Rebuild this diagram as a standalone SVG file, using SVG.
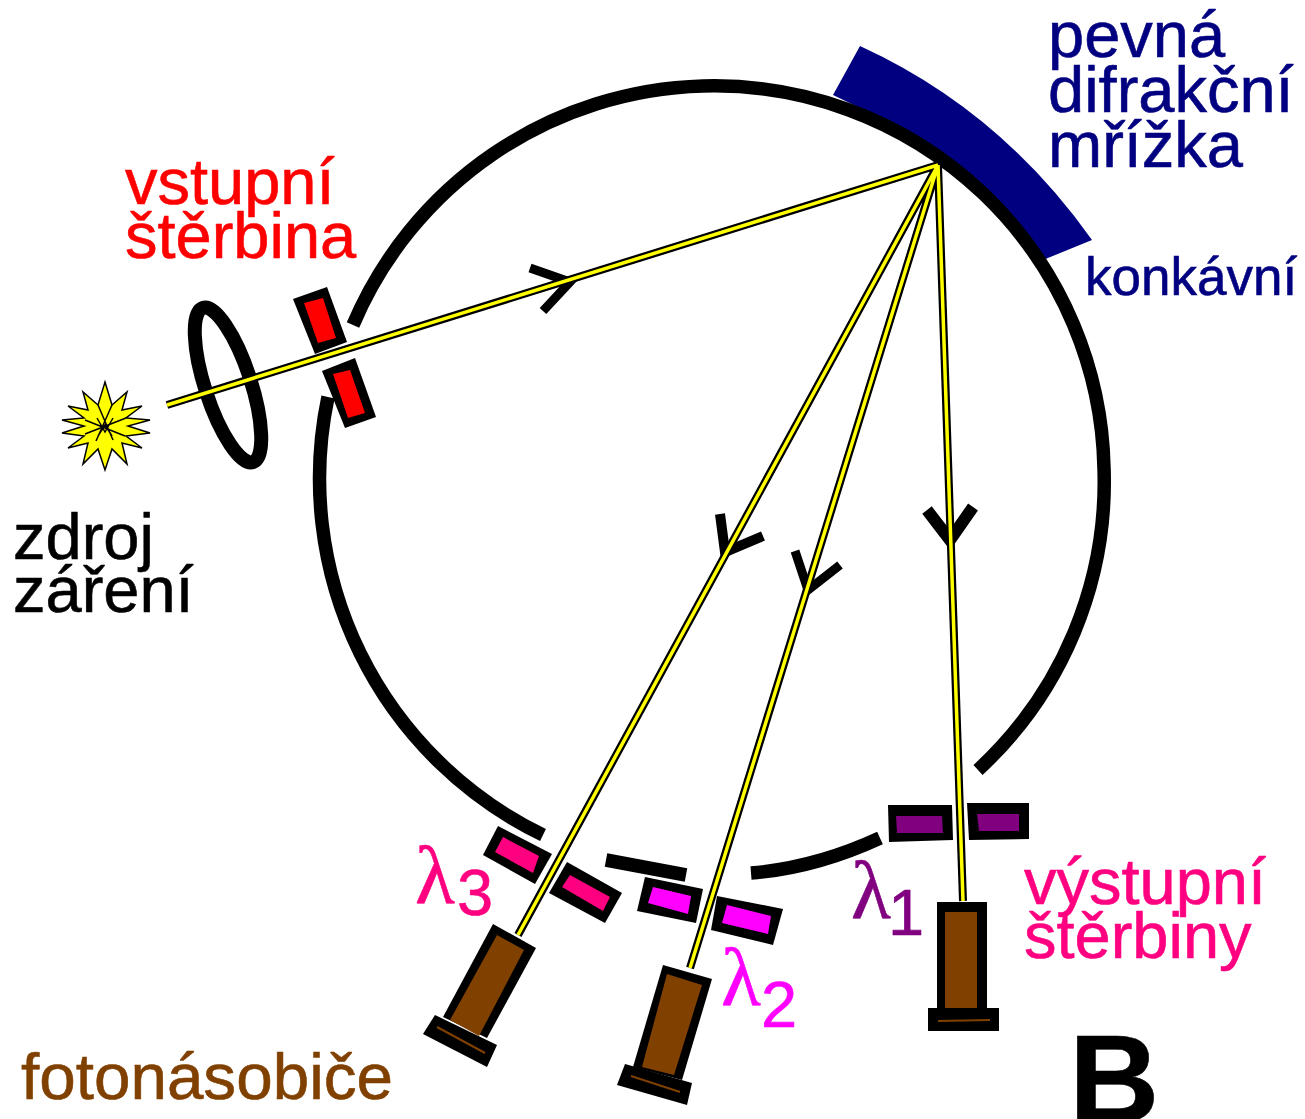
<svg xmlns="http://www.w3.org/2000/svg" width="1305" height="1119" viewBox="0 0 1305 1119">
<style>
text{font-family:"Liberation Sans",Arial,sans-serif;font-size:65px;stroke-width:.6}
.lam{font-family:"Liberation Serif","DejaVu Serif",serif;font-size:82px}
.ring{fill:none;stroke:#000;stroke-width:13.5}
.lens{fill:none;stroke:#000;stroke-width:14}
.chev{fill:none;stroke:#000;stroke-linejoin:miter}
.bk{stroke:#000;stroke-width:8;fill:none}
.yl{stroke:#ff0;stroke-width:3.5;fill:none}
.k{fill:#000}
.br{fill:#804000}
.brl{stroke:#804000;stroke-width:2;fill:none}
.red{fill:#f00}.pink{fill:#ff0080}.mag{fill:#f0f}.pur{fill:#800080}
.navy{fill:#000080}
.tn{fill:#000080;stroke:#000080}.tr{fill:#f00;stroke:#f00}.tk{fill:#000;stroke:#000}.tp{fill:#ff0080;stroke:#ff0080}.tb{fill:#804000;stroke:#804000}.tm{fill:#f0f;stroke:#f0f}.tu{fill:#800080;stroke:#800080}
</style>
<rect width="1305" height="1119" fill="#fff"/>
<g id="grating"><path class="navy" d="M860 46L833 95Q945 145 1043 260L1092 240Q1000 110 860 46Z"/></g>
<g id="rowland-circle">
<path class="ring" d="M353 325A392 392 0 0 1 703 86A390 390 0 0 1 1104 468A392 392 0 0 1 978 770"/>
<path class="ring" d="M328 397A396 396 0 0 0 543 835"/>
<path class="ring" d="M751 873Q815 868 880 838"/>
<path class="ring" d="M606 860L686 875"/>
</g>
<g id="source">
<polygon fill="#ff0" stroke="#000" stroke-width="1.5" points="105,382 112,405 127,392 122,410 142,406 126,418 150,420 128,426 150,433 126,436 142,448 122,443 127,464 112,449 105,470 98,449 83,464 88,443 68,448 84,436 62,433 84,426 62,420 84,418 68,406 88,410 83,392 98,405"/>
<path fill="none" stroke="#000" stroke-width="1.5" d="M98 405L113 440M112 405L96 441M85 420L125 436M85 434L126 418M97 418L105 432L113 418M98 436L105 425L112 436"/>
</g>
<g id="lens"><ellipse class="lens" cx="228" cy="385" rx="23" ry="81" transform="rotate(-18 228 385)"/></g>
<g id="entrance-slit">
<polygon class="k" points="293,299 327,287 347,342 315,354"/><polygon class="red" points="304,303 323,298 336,338 318,343"/>
<polygon class="k" points="322,371 355,358 376,417 345,428"/><polygon class="red" points="333,374 350,370 365,413 348,418"/>
</g>
<g id="exit-slit-3">
<polygon class="k" points="498,826 552,854 535,884 483,855"/><polygon class="pink" points="503,837 539,856 533,873 495,852"/>
<polygon class="k" points="567,862 622,893 605,923 549,893"/><polygon class="pink" points="570,875 610,897 603,911 562,887"/>
</g>
<g id="exit-slit-2">
<polygon class="k" points="645,877 703,889 696,923 637,911"/><polygon class="mag" points="653,887 691,896 688,914 648,903"/>
<polygon class="k" points="717,896 783,909 773,945 711,930"/><polygon class="mag" points="727,905 771,916 768,934 722,923"/>
</g>
<g id="exit-slit-1">
<polygon class="k" points="888,805 952,805 953,840 889,842"/><polygon class="pur" points="896,816 942,816 943,833 897,833"/>
<polygon class="k" points="967,803 1029,803 1029,839 969,840"/><polygon class="pur" points="977,814 1019,814 1019,831 979,831"/>
</g>
<g id="connectors">
<path class="chev" stroke-width="9" d="M530 268L570 282L543 311"/>
<path class="chev" stroke-width="10" d="M720 514L725 552L763 536"/>
<path class="chev" stroke-width="9" d="M795 551L808 590L840 565"/>
<path class="chev" stroke-width="12" d="M927 510L950 540L973 507"/>
<path class="bk" d="M167 405L938 165M938 165L518 935M938 165L690 968M938 165L963 901"/>
<path class="yl" d="M167 405L938 165M938 165L518 935M938 165L690 968M938 165L963 901"/>
</g>
<g id="pmt-3">
<polygon class="k" points="493,924 536,948 487,1038 443,1017"/><polygon class="br" points="497,935 524,950 479,1036 450,1020"/>
<polygon class="k" points="435,1015 497,1045 487,1067 423,1034"/><path class="brl" d="M437 1027L485 1053"/>
</g>
<g id="pmt-2">
<polygon class="k" points="663,965 712,979 682,1080 633,1067"/><polygon class="br" points="667,974 702,985 674,1075 642,1067"/>
<polygon class="k" points="625,1064 692,1083 687,1105 617,1085"/><path class="brl" d="M631 1076L680 1092"/>
</g>
<g id="pmt-1">
<rect class="k" x="937" y="902" width="50" height="106"/><rect class="br" x="945" y="912" width="32" height="96"/>
<rect class="k" x="928" y="1008" width="71" height="23"/><path class="brl" d="M938 1021L990 1020"/>
</g>
<g id="labels">
<text class="tn" x="1048" y="57">pevná</text>
<text class="tn" x="1048" y="112">difrakční</text>
<text class="tn" x="1048" y="167">mřížka</text>
<text class="tn" x="1085" y="295" style="font-size:53px">konkávní</text>
<text class="tr" x="125" y="204">vstupní</text>
<text class="tr" x="125" y="258">štěrbina</text>
<text class="tk" x="13" y="559">zdroj</text>
<text class="tk" x="13" y="612">záření</text>
<text class="tp" x="1024" y="904">výstupní</text>
<text class="tp" x="1024" y="958">štěrbiny</text>
<text class="tb" x="21" y="1099" style="font-size:65.6px">fotonásobiče</text>
<text class="tk" x="1069" y="1122" style="font-size:125px;font-weight:bold">B</text>
<text class="lam tp" x="415" y="903">λ</text><text class="tp" x="457" y="915">3</text>
<text class="lam tm" x="721" y="1005">λ</text><text class="tm" x="761" y="1027">2</text>
<text class="lam tu" x="851" y="918">λ</text><text class="tu" x="888" y="935">1</text>
</g>
</svg>
